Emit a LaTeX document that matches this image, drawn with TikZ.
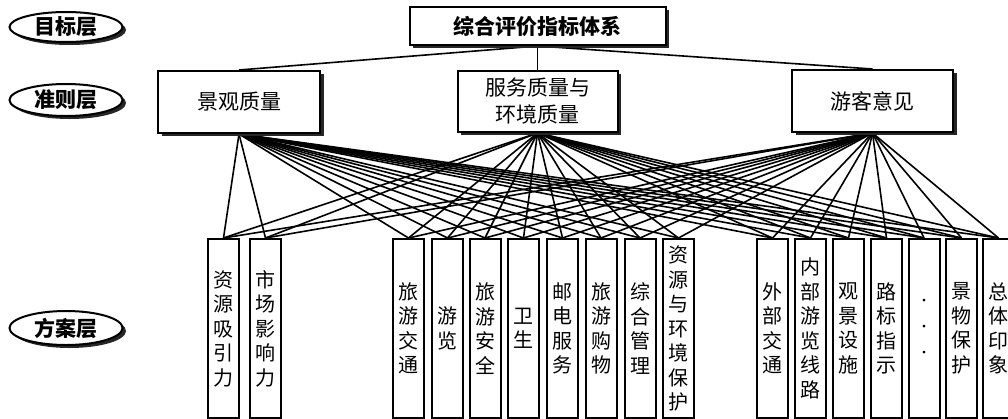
\documentclass[tikz,border=0pt]{standalone}
\usepackage{fontspec}
\setmainfont{Noto Sans CJK SC}
\usetikzlibrary{shapes.geometric,shadows,backgrounds}
\begin{document}
\begin{tikzpicture}[x=1pt,y=-1pt,
  shad/.style={drop shadow={shadow xshift=3.5pt,shadow yshift=-3pt,fill=black!85,opacity=1}},
  crit/.style={draw,line width=2pt,fill=white,shad,align=center,inner sep=0pt,
    font=\fontsize{21}{27}\selectfont},
  goal/.style={draw,line width=2pt,fill=white,shad,inner sep=0pt,
    font=\fontsize{21}{21}\selectfont\bfseries},
  lay/.style={ellipse,draw,line width=2pt,fill=white,shad,inner sep=0pt,
    minimum width=113pt,font=\fontsize{21}{21}\selectfont\bfseries},
  leaf/.style={draw,line width=2pt,fill=white,minimum width=31pt,minimum height=179pt,
    anchor=north,align=center,inner sep=0pt,font=\fontsize{20}{24.5}\selectfont},
  link/.style={line width=1.6pt}]
\useasboundingbox (0,0) rectangle (1008,418);
\clip (0,0) rectangle (1008,418);
% layer labels
\node[lay,minimum height=30pt] (l1) at (66,27) {目标层};
\node[lay,minimum height=32pt] (l2) at (66,100) {准则层};
\node[lay,minimum height=34pt] (l3) at (66,328) {方案层};
% goal
\node[goal,minimum width=256pt,minimum height=38pt] (top) at (537.5,26) {综合评价指标体系};
% criteria
\node[crit,minimum width=162pt,minimum height=62pt] (jg) at (239,102) {景观质量};
\node[crit,minimum width=160pt,minimum height=61pt] (fw) at (537.5,101.5) {服务质量与\\环境质量};
\node[crit,minimum width=161pt,minimum height=62pt] (yk) at (872.5,101) {游客意见};
% leaves
\node[leaf] (b1) at (223.5,238) {资\\源\\吸\\引\\力};
\node[leaf] (b2) at (265.5,238) {市\\场\\影\\响\\力};
\node[leaf] (b3) at (408.5,238) {旅\\游\\交\\通};
\node[leaf] (b4) at (447.5,238) {游\\览};
\node[leaf] (b5) at (485,238) {旅\\游\\安\\全};
\node[leaf] (b6) at (523.5,238) {卫\\生};
\node[leaf] (b7) at (562.5,238) {邮\\电\\服\\务};
\node[leaf] (b8) at (601,238) {旅\\游\\购\\物};
\node[leaf] (b9) at (640,238) {综\\合\\管\\理};
\node[leaf] (b10) at (678.5,238) {资\\源\\与\\环\\境\\保\\护};
\node[leaf] (b11) at (772.5,238) {外\\部\\交\\通};
\node[leaf] (b12) at (810.5,238) {内\\部\\游\\览\\线\\路};
\node[leaf] (b13) at (848.5,238) {观\\景\\设\\施};
\node[leaf] (b14) at (886.5,238) {路\\标\\指\\示};
\node[leaf,font=\fontsize{13}{26}\selectfont] (b15) at (924,238) {·\\·\\·};
\node[leaf] (b16) at (961.5,238) {景\\物\\保\\护};
\node[leaf] (b17) at (998.5,238) {总\\体\\印\\象};
\begin{pgfonlayer}{background}
  \draw[link] (top.south) -- (jg.north);
  \draw[link] (top.south) -- (fw.north);
  \draw[link] (top.south) -- (yk.north);
  \foreach \c in {jg,fw,yk}
    \foreach \b in {1,...,17}
      \draw[link] (\c.south) -- (b\b.north);
\end{pgfonlayer}
\end{tikzpicture}
\end{document}
